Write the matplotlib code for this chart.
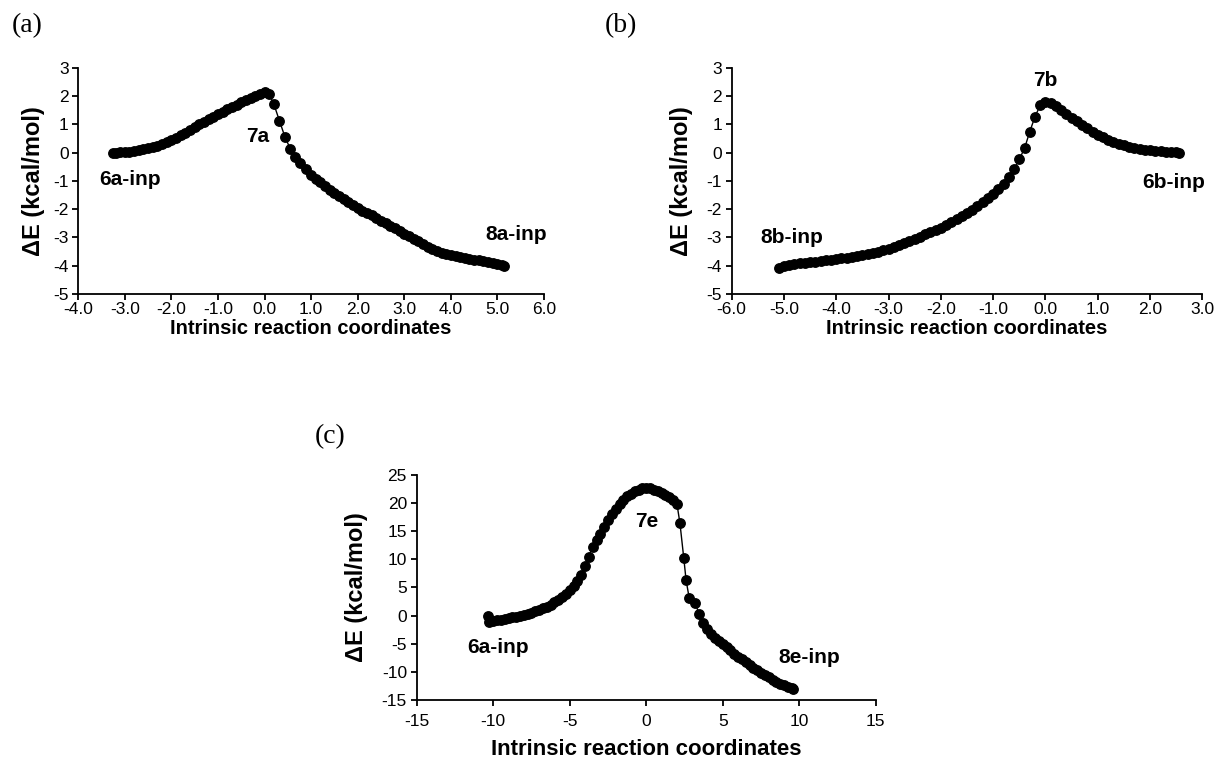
import matplotlib
matplotlib.use("Agg")
import matplotlib.pyplot as plt

plt.rcParams['font.family'] = ['Liberation Sans', 'DejaVu Sans']
plt.rcParams['axes.unicode_minus'] = False

# panel (a): 6a-inp -> 7a -> 8a-inp
irc_a = [-3.25, -3.2, -3.1, -3.0, -2.9, -2.8, -2.7, -2.6, -2.5, -2.4, -2.3, -2.2,
         -2.1, -2.0, -1.9, -1.8, -1.7, -1.6, -1.5, -1.4, -1.3, -1.2, -1.1, -1.0,
         -0.9, -0.8, -0.7, -0.6, -0.5, -0.4, -0.3, -0.2, -0.1, 0.0,
         0.1, 0.2, 0.32, 0.44, 0.55, 0.66, 0.77, 0.88, 1.0, 1.1, 1.2, 1.3, 1.4,
         1.5, 1.6, 1.7, 1.8, 1.9, 2.0, 2.1, 2.2, 2.3, 2.4, 2.5, 2.6, 2.7, 2.8,
         2.9, 3.0, 3.1, 3.2, 3.3, 3.4, 3.5, 3.6, 3.7, 3.8, 3.9, 4.0, 4.1, 4.2,
         4.3, 4.4, 4.5, 4.6, 4.7, 4.8, 4.9, 5.0, 5.1, 5.15]
dE_a = [0.0, 0.0, 0.01, 0.02, 0.03, 0.05, 0.08, 0.12, 0.16, 0.2, 0.25, 0.31,
        0.38, 0.45, 0.53, 0.62, 0.71, 0.8, 0.9, 1.0, 1.09, 1.18, 1.27, 1.36,
        1.45, 1.54, 1.62, 1.7, 1.78, 1.86, 1.94, 2.01, 2.08, 2.14,
        2.08, 1.72, 1.13, 0.55, 0.15, -0.15, -0.38, -0.58, -0.78, -0.92, -1.05,
        -1.18, -1.31, -1.43, -1.54, -1.65, -1.76, -1.86, -1.96, -2.05, -2.14,
        -2.22, -2.31, -2.4, -2.49, -2.58, -2.67, -2.77, -2.86, -2.95, -3.04,
        -3.14, -3.23, -3.32, -3.4, -3.47, -3.54, -3.59, -3.63, -3.66, -3.69,
        -3.72, -3.75, -3.78, -3.81, -3.84, -3.87, -3.91, -3.95, -3.99, -4.01]

# panel (b): 8b-inp <- 7b -> 6b-inp
irc_b = [-5.1, -5.0, -4.9, -4.8, -4.7, -4.6, -4.5, -4.4, -4.3, -4.2, -4.1, -4.0,
         -3.9, -3.8, -3.7, -3.6, -3.5, -3.4, -3.3, -3.2, -3.1, -3.0, -2.9, -2.8,
         -2.7, -2.6, -2.5, -2.4, -2.3, -2.2, -2.1, -2.0, -1.9, -1.8, -1.7, -1.6,
         -1.5, -1.4, -1.3, -1.2, -1.1, -1.0, -0.9, -0.8, -0.7, -0.6, -0.5, -0.4,
         -0.3, -0.2, -0.1, 0.0,
         0.1, 0.2, 0.3, 0.4, 0.5, 0.6, 0.7, 0.8, 0.9, 1.0, 1.1, 1.2, 1.3, 1.4,
         1.5, 1.6, 1.7, 1.8, 1.9, 2.0, 2.1, 2.2, 2.3, 2.4, 2.5, 2.55]
dE_b = [-4.08, -4.02, -3.98, -3.95, -3.92, -3.9, -3.87, -3.85, -3.83, -3.81,
        -3.79, -3.77, -3.74, -3.72, -3.69, -3.66, -3.63, -3.59, -3.55, -3.5,
        -3.45, -3.39, -3.33, -3.27, -3.2, -3.13, -3.05, -2.97, -2.89, -2.81,
        -2.73, -2.65, -2.56, -2.46, -2.36, -2.25, -2.13, -2.01, -1.88, -1.74,
        -1.6, -1.45, -1.3, -1.12, -0.85, -0.59, -0.23, 0.16, 0.75, 1.28, 1.68,
        1.81,
        1.76, 1.65, 1.52, 1.38, 1.24, 1.11, 0.99, 0.87, 0.75, 0.63, 0.54, 0.46,
        0.38, 0.31, 0.26, 0.21, 0.17, 0.13, 0.11, 0.09, 0.07, 0.05, 0.04, 0.02,
        0.01, -0.02]

# panel (c): 6a-inp -> 7e -> 8e-inp
irc_c = [-10.35, -10.3, -10.0, -9.75, -9.5, -9.25, -9.0, -8.75, -8.5, -8.25,
         -8.0, -7.75, -7.5, -7.25, -7.0, -6.75, -6.5, -6.25, -6.0, -5.75, -5.5,
         -5.25, -5.0, -4.75, -4.5, -4.25, -4.0, -3.75, -3.5, -3.25, -3.0, -2.75,
         -2.5, -2.25, -2.0, -1.75, -1.5, -1.25, -1.0, -0.75, -0.5, -0.25, 0.0,
         0.25, 0.5, 0.75, 1.0, 1.25, 1.5, 1.75, 2.0,
         2.2, 2.45, 2.6, 2.8, 3.2, 3.45, 3.7, 3.95, 4.25, 4.5, 4.75, 5.0, 5.25,
         5.5, 5.75, 6.0, 6.25, 6.5, 6.75, 7.0, 7.25, 7.5, 7.75, 8.0, 8.25, 8.5,
         8.75, 9.0, 9.25, 9.5, 9.6]
dE_c = [0.0, -1.15, -1.0, -0.85, -0.7, -0.6, -0.48, -0.33, -0.18, -0.02,
        0.15, 0.33, 0.55, 0.78, 1.02, 1.3, 1.6, 1.95, 2.35, 2.8, 3.3, 3.9, 4.5,
        5.2, 6.1, 7.3, 8.8, 10.5, 12.2, 13.4, 14.5, 15.8, 17.0, 18.0, 18.9,
        19.8, 20.6, 21.2, 21.7, 22.1, 22.4, 22.6, 22.65, 22.6, 22.4, 22.15,
        21.85, 21.45, 21.0, 20.5, 19.9,
        16.4, 10.2, 6.3, 3.2, 2.2, 0.3, -1.4, -2.4, -3.2, -3.9, -4.5, -5.0,
        -5.6, -6.2, -6.8, -7.3, -7.8, -8.3, -8.8, -9.3, -9.75, -10.2, -10.6,
        -11.0, -11.4, -11.75, -12.1, -12.4, -12.7, -12.9, -13.0]

fig = plt.figure(figsize=(12.17, 7.64), dpi=100)


def panel(rect, x, y, xlim, xstep, ylim, ystep, xfmt, labels, ylab_x, xlab_y, xpad, xlab_size):
    ax = fig.add_axes(rect)
    ax.plot(x, y, color='black', lw=1.0, marker='o', ms=6.8,
            markerfacecolor='black', markeredgecolor='black')
    ax.set_xlim(*xlim)
    ax.set_ylim(*ylim)
    xt = [xlim[0] + i * xstep for i in range(int(round((xlim[1] - xlim[0]) / xstep)) + 1)]
    yt = [ylim[0] + i * ystep for i in range(int(round((ylim[1] - ylim[0]) / ystep)) + 1)]
    ax.set_xticks(xt)
    ax.set_xticklabels([xfmt.format(v) for v in xt])
    ax.set_yticks(yt)
    for s in ['top', 'right']:
        ax.spines[s].set_visible(False)
    for s in ['left', 'bottom']:
        ax.spines[s].set_linewidth(1.3)
    ax.tick_params(direction='out', length=4, width=1.3, labelsize=12.5, pad=3)
    ax.tick_params(axis='x', pad=xpad)
    ax.set_xlabel("Intrinsic reaction coordinates", fontsize=xlab_size, fontweight='bold')
    ax.set_ylabel("ΔE (kcal/mol)", fontsize=17, fontweight='bold')
    ax.yaxis.set_label_coords(ylab_x, 0.5)
    ax.xaxis.set_label_coords(0.5, xlab_y)
    for tx, ty, t in labels:
        ax.text(tx, ty, t, fontsize=15, fontweight='bold', ha='center', va='center')
    return ax


panel([0.0643, 0.6152, 0.3827, 0.2958], irc_a, dE_a, (-4, 6), 1, (-5, 3), 1,
      "{:.1f}", [(-2.88, -0.96, "6a-inp"), (-0.15, 0.56, "7a"), (5.41, -2.88, "8a-inp")],
      -0.072, -0.112, 2, 14.5)
panel([0.6012, 0.6152, 0.3868, 0.2958], irc_b, dE_b, (-6, 3), 1, (-5, 3), 1,
      "{:.1f}", [(-4.85, -3.0, "8b-inp"), (0.0, 2.57, "7b"), (2.45, -1.05, "6b-inp")],
      -0.082, -0.112, 2, 14.5)
panel([0.3424, 0.0838, 0.3773, 0.2945], irc_c, dE_c, (-15, 15), 5, (-15, 25), 5,
      "{:.0f}", [(-9.7, -5.6, "6a-inp"), (0.0, 16.7, "7e"), (10.65, -7.5, "8e-inp")],
      -0.106, -0.172, 6, 16)

serif = ['Liberation Serif', 'DejaVu Serif']
fig.text(0.022, 0.967, "(a)", fontsize=20, family=serif, ha='center', va='center')
fig.text(0.510, 0.967, "(b)", fontsize=20, family=serif, ha='center', va='center')
fig.text(0.271, 0.429, "(c)", fontsize=20, family=serif, ha='center', va='center')

fig.savefig("out.png", dpi=100)
